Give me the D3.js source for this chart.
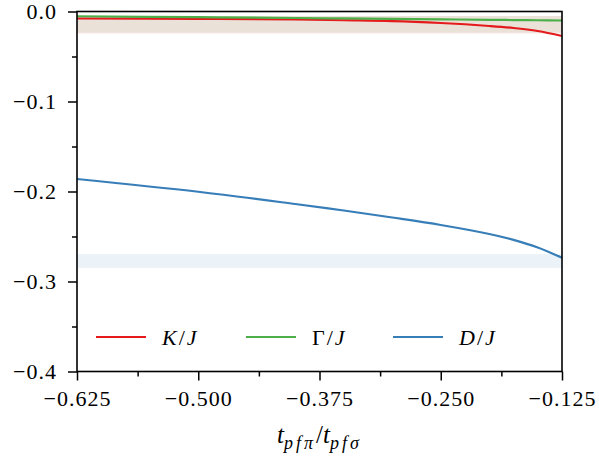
<!DOCTYPE html>
<html>
<head>
<meta charset="utf-8">
<script src="https://cdn.jsdelivr.net/npm/d3@7"></script>
<style>
  body { margin: 0; background: #fff; }
  svg { display: block; }
</style>
</head>
<body>
<div id="chart"></div>
<script>
// data
var xVals   = [-0.625, -0.5, -0.4, -0.35, -0.3, -0.25, -0.2, -0.175, -0.15, -0.125];
var kVals   = [-0.0078, -0.0081, -0.0089, -0.0097, -0.0106, -0.0128, -0.0161, -0.0183, -0.0217, -0.0272];
var gVals   = [-0.0053, -0.0063, -0.0072, -0.0077, -0.0082, -0.0087, -0.0092, -0.0095, -0.0097, -0.0100];
var dVals   = [-0.1861, -0.2003, -0.2139, -0.2211, -0.2289, -0.2372, -0.2472, -0.2537, -0.2622, -0.2737];
var bands   = [[-0.0245, -0.005], [-0.0235, -0.005], [-0.285, -0.2695]];
var names   = ["K", "\u0393", "D"];
var colors  = ["#e41a1c", "#4daf4a", "#377eb8"];
var xTicks  = [-0.625, -0.5, -0.375, -0.25, -0.125];
var yTicks  = [0, -0.1, -0.2, -0.3, -0.4];

var W = 599, H = 462;
var margin = {top: 11.5, right: 37, bottom: 90.5, left: 77},
    width = W - margin.left - margin.right,
    height = H - margin.top - margin.bottom;

var serif = "'Liberation Serif', 'Times New Roman', serif";

var svg = d3.select("#chart")
  .append("svg")
    .attr("width", W)
    .attr("height", H)
    .style("font-family", serif)
  .append("g")
    .attr("transform", "translate(" + margin.left + "," + margin.top + ")");

var x = d3.scaleLinear().domain([-0.625, -0.125]).range([0, width]);
var y = d3.scaleLinear().domain([-0.4, 0]).range([height, 0]);

// shaded bands
svg.selectAll("rect.band")
  .data(bands)
  .enter()
  .append("rect")
    .attr("class", "band")
    .attr("x", 0)
    .attr("width", width)
    .attr("y", function(d) { return y(d[1]); })
    .attr("height", function(d) { return y(d[0]) - y(d[1]); })
    .style("fill", function(d, i) { return colors[i]; })
    .style("opacity", 0.1);

// lines
var series = [kVals, gVals, dVals];
var line = d3.line()
    .x(function(d, i) { return x(xVals[i]); })
    .y(function(d) { return y(d); })
    .curve(d3.curveCatmullRom.alpha(0.5));

svg.selectAll("path.series")
  .data(series)
  .enter()
  .append("path")
    .attr("class", "series")
    .attr("d", line)
    .style("fill", "none")
    .style("stroke", function(d, i) { return colors[i]; })
    .style("stroke-width", 2.2);

var minus = function(s) { return s.replace("-", "\u2212"); };

// axes
svg.append("g")
    .attr("transform", "translate(0," + height + ")")
    .call(d3.axisBottom(x).tickValues(xTicks).tickSize(9).tickPadding(10)
      .tickFormat(function(d) { return minus(d3.format(".3f")(d)); }));
svg.append("g")
    .attr("transform", "translate(0," + height + ")")
    .call(d3.axisBottom(x).tickValues([-0.5625, -0.4375, -0.3125, -0.1875]).tickSize(5).tickFormat(""));

svg.append("g")
    .call(d3.axisLeft(y).tickValues(yTicks).tickSize(9).tickPadding(11)
      .tickFormat(function(d) { return minus(d3.format(".1f")(d)); }));
svg.append("g")
    .call(d3.axisLeft(y).tickValues([-0.05, -0.15, -0.25, -0.35]).tickSize(5).tickFormat(""));

svg.selectAll(".tick line").style("stroke", "#000").style("stroke-width", 1.5);
svg.selectAll(".domain").remove();
svg.selectAll(".tick text")
    .style("font-family", serif)
    .style("font-size", "22px")
    .style("letter-spacing", "1px")
    .style("fill", "#000");

// frame
svg.append("rect")
    .attr("x", 0).attr("y", 0)
    .attr("width", width).attr("height", height)
    .style("fill", "none")
    .style("stroke", "#000")
    .style("stroke-width", 1.6);

// legend
var legX = [19, 169, 316];
var leg = svg.selectAll("g.leg")
  .data(names)
  .enter()
  .append("g")
    .attr("class", "leg")
    .attr("transform", function(d, i) { return "translate(" + legX[i] + ",325.5)"; });
leg.append("line")
    .attr("x1", 0).attr("x2", 50)
    .style("stroke", function(d, i) { return colors[i]; })
    .style("stroke-width", 2.2);
var lt = leg.append("text")
    .attr("x", 66)
    .attr("y", 7.5)
    .style("font-size", "22px")
    .style("letter-spacing", "2px");
lt.append("tspan").style("font-style", function(d) { return d === "\u0393" ? "normal" : "italic"; }).text(function(d) { return d; });
lt.append("tspan").text("/");
lt.append("tspan").style("font-style", "italic").text("J");

// x label
var xl = svg.append("text")
    .attr("x", width / 2)
    .attr("y", height + 71)
    .style("text-anchor", "middle")
    .style("font-size", "25px")
    .style("font-style", "italic");
xl.append("tspan").text("t");
xl.append("tspan").attr("dy", 6).style("font-size", "18px").style("letter-spacing", "3px").text("pf\u03c0");
xl.append("tspan").attr("dy", -6).style("font-style", "normal").text("/");
xl.append("tspan").text("t");
xl.append("tspan").attr("dy", 6).style("font-size", "18px").style("letter-spacing", "3px").text("pf\u03c3");
</script>
</body>
</html>
